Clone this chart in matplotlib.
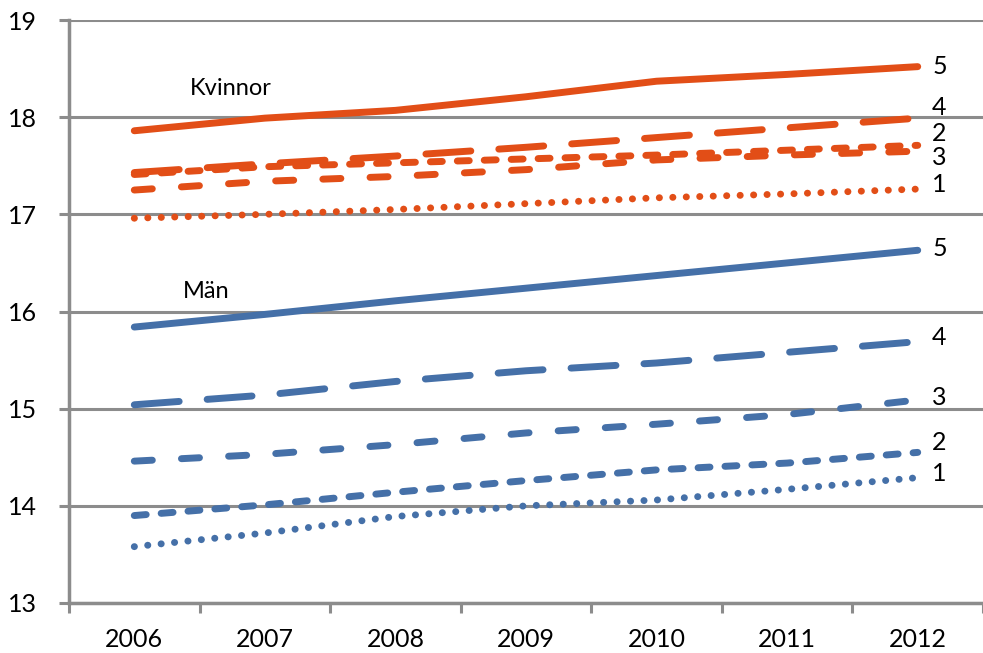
import numpy as np
import matplotlib as mpl

mpl.use("Agg")

import matplotlib.pyplot as plt

mpl.rcParams["font.family"] = ["Lato", "DejaVu Sans"]
mpl.rcParams["lines.scale_dashes"] = False

years = ["2006", "2007", "2008", "2009", "2010", "2011", "2012"]

# women, by group 1-5
kvinnor_1 = [16.96, 17.00, 17.05, 17.11, 17.17, 17.21, 17.26]
kvinnor_2 = [17.41, 17.49, 17.53, 17.57, 17.61, 17.66, 17.71]
kvinnor_3 = [17.25, 17.34, 17.39, 17.46, 17.56, 17.61, 17.65]
kvinnor_4 = [17.43, 17.52, 17.60, 17.69, 17.79, 17.89, 17.99]
kvinnor_5 = [17.86, 17.99, 18.07, 18.21, 18.37, 18.44, 18.52]

# men, by group 1-5
man_1 = [13.58, 13.72, 13.89, 14.00, 14.06, 14.17, 14.29]
man_2 = [13.90, 14.01, 14.14, 14.26, 14.37, 14.44, 14.55]
man_3 = [14.46, 14.53, 14.63, 14.75, 14.84, 14.94, 15.09]
man_4 = [15.04, 15.14, 15.28, 15.39, 15.47, 15.58, 15.69]
man_5 = [15.84, 15.97, 16.11, 16.24, 16.37, 16.50, 16.63]

groups = ["1", "2", "3", "4", "5"]

orange = "#E24E17"
blue = "#4570A8"
grey = "#8C8C8C"

# dash patterns in points (lw 5 pt, round caps)
styles = {
    "1": (0, (0.1, 9.6)),
    "2": (0, (8.6, 10.8)),
    "3": (0, (13.0, 21.0)),
    "4": (0, (32.4, 20.2)),
    "5": "-",
}

# label heights next to the line ends
kvinnor_label_y = {"5": 18.52, "4": 18.10, "2": 17.83, "3": 17.59, "1": 17.31}
man_label_y = {"5": 16.65, "4": 15.73, "3": 15.12, "2": 14.65, "1": 14.33}

fig = plt.figure(figsize=(9.83, 6.53), dpi=100)
axis = fig.add_axes([69 / 983, 1 - 603 / 653, 1 - 69 / 983, (603 - 20) / 653])

x = np.arange(len(years))
series = [
    (orange, dict(zip(groups, [kvinnor_1, kvinnor_2, kvinnor_3, kvinnor_4, kvinnor_5])), kvinnor_label_y),
    (blue, dict(zip(groups, [man_1, man_2, man_3, man_4, man_5])), man_label_y),
]
for color, values, label_y in series:
    for group in groups:
        axis.plot(x, values[group], color=color, linewidth=5,
                  linestyle=styles[group],
                  dash_capstyle="round", solid_capstyle="round",
                  zorder=3)
        axis.text(6.11, label_y[group], group, fontsize=18,
                  ha="left", va="center", color="black")

axis.text(0.736, 18.29, "Kvinnor", fontsize=17, ha="center", va="center")
axis.text(0.554, 16.21, "Män", fontsize=17, ha="center", va="center")

axis.set_xlim(-0.5, (983 - 135) / 131.8)
axis.set_ylim(13, 19)
axis.set_yticks(np.arange(13, 20))
axis.set_xticks(x)
axis.set_xticklabels(years)
axis.set_xticks(np.arange(-0.5, 7.0, 1.0), minor=True)
axis.tick_params(axis="x", which="major", length=0, pad=18, labelsize=18)
axis.tick_params(axis="x", which="minor", length=7, width=2.2, color=grey,
                 direction="out")
axis.tick_params(axis="y", length=7, width=2.2, color=grey, pad=16,
                 labelsize=18)
axis.yaxis.grid(True, color=grey, linewidth=2.2)
axis.set_axisbelow(True)
for side in ["top", "right"]:
    axis.spines[side].set_visible(False)
for side in ["left", "bottom"]:
    axis.spines[side].set_color(grey)
    axis.spines[side].set_linewidth(2.5)
    axis.spines[side].set_zorder(2.5)

plt.savefig("out.png", dpi=100)
